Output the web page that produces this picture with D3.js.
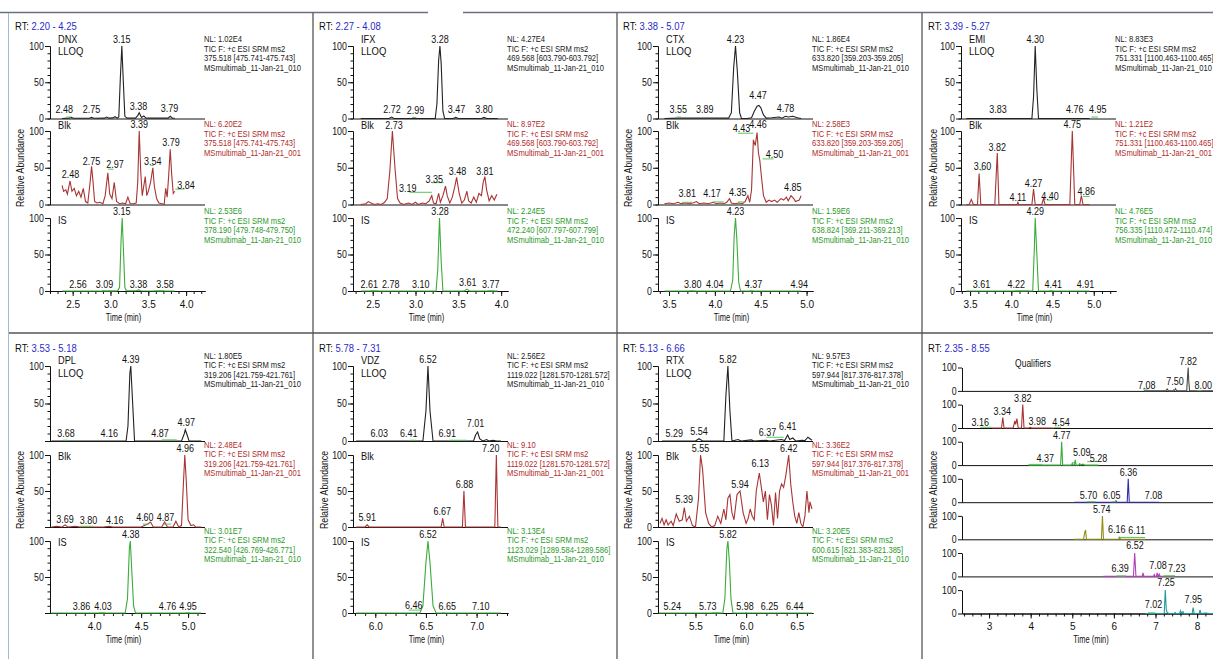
<!DOCTYPE html>
<html><head><meta charset="utf-8">
<script src="https://cdn.jsdelivr.net/npm/d3@7"></script>
<style>
body{margin:0;background:#fff;}
svg{display:block;font-family:Arial,"Liberation Sans",sans-serif;}
</style></head><body>
<svg id="c" width="1213" height="659"></svg>
<script>
// ---------------- DATA ----------------
const TIC = "TIC F: +c ESI SRM ms2";
const FILE_S = "MSmultimab_11-Jan-21_010";
const FILE_B = "MSmultimab_11-Jan-21_001";

const panelNames = ["DNX","IFX","CTX","EMI","DPL","VDZ","RTX"];
const panelRT = [[2.20,4.25],[2.27,4.08],[3.38,5.07],[3.39,5.27],[3.53,5.18],[5.78,7.31],[5.13,6.66]];
const panelTicks = [[2.5,3.0,3.5,4.0],[2.5,3.0,3.5,4.0],[3.5,4.0,4.5,5.0],[3.5,4.0,4.5,5.0],[4.0,4.5,5.0],[6.0,6.5,7.0],[5.5,6.0,6.5]];
const panelNL = [["1.02E4","6.20E2","2.53E6"],["4.27E4","8.97E2","2.24E5"],["1.86E4","2.58E3","1.59E6"],["8.83E3","1.21E2","4.76E5"],["1.80E5","2.48E4","3.01E7"],["2.56E2","9.10","3.13E4"],["9.57E3","3.36E2","3.20E5"]];
const panelMass = [
 ["375.518 [475.741-475.743]","375.518 [475.741-475.743]","378.190 [479.748-479.750]"],
 ["469.568 [603.790-603.792]","469.568 [603.790-603.792]","472.240 [607.797-607.799]"],
 ["633.820 [359.203-359.205]","633.820 [359.203-359.205]","638.824 [369.211-369.213]"],
 ["751.331 [1100.463-1100.465]","751.331 [1100.463-1100.465]","756.335 [1110.472-1110.474]"],
 ["319.206 [421.759-421.761]","319.206 [421.759-421.761]","322.540 [426.769-426.771]"],
 ["1119.022 [1281.570-1281.572]","1119.022 [1281.570-1281.572]","1123.029 [1289.584-1289.586]"],
 ["597.944 [817.376-817.378]","597.944 [817.376-817.378]","600.615 [821.383-821.385]"]];
const panelZeroLabel = [true,true,true,true,false,true,true];

// DNX
const dnxLLOQ = [[2.36,0],[2.45,0.5],[2.48,1.5],[2.51,0.3],[2.72,0.3],[2.75,1.5],[2.78,0.3],[2.92,0.5],[2.95,2],[2.98,0.5],[3.03,0.8],[3.06,2.5],[3.09,0.5],[3.11,2],[3.13,55],[3.15,100],[3.17,50],[3.19,3],[3.22,0.5],[3.33,0.5],[3.36,4],[3.38,8],[3.41,1.5],[3.44,3.5],[3.47,0.5],[3.76,0.5],[3.79,3],[3.82,0.5],[3.85,0.3]];
const dnxBlk = [[2.36,26],[2.38,18],[2.41,20],[2.43,14],[2.465,32],[2.49,18],[2.52,22],[2.55,12],[2.58,18],[2.61,10],[2.64,22],[2.67,4],[2.70,2],[2.73,30],[2.75,52],[2.77,30],[2.79,4],[2.82,2],[2.86,3],[2.90,1],[2.93,12],[2.965,43],[2.99,14],[3.02,8],[3.05,30],[3.08,4],[3.12,1],[3.16,2],[3.20,1],[3.23,10],[3.26,1],[3.30,1],[3.34,2],[3.36,30],[3.38,100],[3.40,45],[3.42,12],[3.44,25],[3.46,38],[3.48,12],[3.50,18],[3.53,30],[3.56,50],[3.58,25],[3.61,8],[3.64,2],[3.68,1],[3.71,0],[3.73,22],[3.75,10],[3.77,40],[3.79,75],[3.81,40],[3.83,15],[3.85,18]];
const dnxIS = [[2.36,0],[3.08,0],[3.10,1],[3.12,5],[3.14,70],[3.155,100],[3.17,60],[3.19,5],[3.21,0.5],[3.34,0.3],[3.37,1.5],[3.40,0.3],[3.85,0]];
const dnxLLOQLab = [[2.39,5,"2.48"],[2.75,5,"2.75"],[3.15,102,"3.15"],[3.37,9,"3.38"],[3.78,6,"3.79"]];
const dnxBlkLab = [[2.47,33,"2.48"],[2.75,51,"2.75"],[3.06,47,"2.97"],[3.38,101,"3.39"],[3.56,51,"3.54"],[3.80,77,"3.79"],[4.0,18,"3.84"]];
const dnxISLab = [[2.57,1,"2.56"],[2.92,1,"3.09"],[3.15,101,"3.15"],[3.37,1,"3.38"],[3.72,1,"3.58"]];
const dnxLLOQSeg = [[2.41,2.48,2]];
const dnxBlkSeg = [[2.97,3.04,48],[3.53,3.57,53],[3.86,3.98,21]];
const dnxISSeg = [[2.89,3.07,0.5],[3.58,3.71,0.5]];

// IFX
const ifxLLOQ = [[2.36,0],[2.69,0],[2.72,2],[2.75,0],[3.23,0],[3.25,20],[3.27,80],[3.285,100],[3.30,75],[3.32,10],[3.34,0],[3.44,0],[3.47,1.5],[3.50,0],[3.77,0],[3.80,1.5],[3.83,0],[3.96,0]];
const ifxBlk = [[2.36,0],[2.42,1],[2.45,4],[2.48,2],[2.52,0],[2.56,1],[2.60,0],[2.64,3],[2.67,8],[2.70,45],[2.73,100],[2.76,50],[2.79,8],[2.82,2],[2.86,0],[2.92,2],[2.96,0],[3.0,3],[3.03,0],[3.08,2],[3.12,1],[3.16,5],[3.19,12],[3.21,2],[3.24,1],[3.27,15],[3.29,3],[3.32,12],[3.35,25],[3.37,12],[3.40,2],[3.43,10],[3.46,25],[3.48,37],[3.51,15],[3.54,2],[3.57,6],[3.60,18],[3.62,5],[3.65,2],[3.68,10],[3.71,3],[3.74,15],[3.77,12],[3.79,30],[3.81,38],[3.83,20],[3.86,5],[3.89,12],[3.92,6],[3.95,14]];
const ifxIS = [[2.36,0],[3.24,0],[3.26,30],[3.28,100],[3.30,40],[3.32,0],[3.57,0],[3.60,2.5],[3.63,0],[3.96,0]];
const ifxLLOQLab = [[2.725,5,"2.72"],[3.0,4,"2.99"],[3.285,102,"3.28"],[3.48,5,"3.47"],[3.80,5,"3.80"]];
const ifxBlkLab = [[2.75,100,"2.73"],[2.91,14,"3.19"],[3.22,27,"3.35"],[3.49,38,"3.48"],[3.81,38,"3.81"]];
const ifxISLab = [[2.46,1,"2.61"],[2.71,1,"2.78"],[3.06,1,"3.10"],[3.285,101,"3.28"],[3.61,4,"3.61"],[3.88,1,"3.77"]];
const ifxLLOQSeg = [[2.96,3.01,1.5]];
const ifxBlkSeg = [[2.93,3.19,16.6],[3.19,3.33,29.7]];
const ifxISSeg = [[2.46,2.56,0.5],[3.84,3.92,0.5]];

// CTX
const ctxLLOQ = [[3.45,0],[3.6,0.5],[3.9,0.5],[4.15,0.5],[4.18,8],[4.205,70],[4.225,100],[4.245,65],[4.27,8],[4.29,0],[4.35,0],[4.40,1],[4.43,10],[4.46,17],[4.48,18],[4.50,15],[4.53,5],[4.56,0.5],[4.62,1],[4.7,2],[4.73,0.5],[4.77,3],[4.8,2],[4.85,3],[4.9,1],[4.94,0]];
const ctxBlk = [[3.45,1],[3.5,2],[3.55,1],[3.6,3],[3.63,1],[3.68,2],[3.72,1],[3.76,2],[3.8,4],[3.83,1],[3.88,2],[3.93,1],[3.98,3],[4.02,1],[4.06,2],[4.1,1],[4.13,3],[4.16,8],[4.18,2],[4.22,1],[4.26,2],[4.3,1],[4.33,4],[4.36,12],[4.38,3],[4.40,20],[4.42,88],[4.44,80],[4.46,98],[4.475,70],[4.49,60],[4.51,35],[4.53,12],[4.56,3],[4.59,6],[4.62,4],[4.65,6],[4.68,3],[4.72,8],[4.75,6],[4.78,10],[4.8,5],[4.83,12],[4.86,8],[4.88,4],[4.92,6],[4.94,12]];
const ctxIS = [[3.45,0],[4.17,0],[4.195,15],[4.21,75],[4.225,100],[4.24,70],[4.26,12],[4.28,0],[4.94,0]];
const ctxLLOQLab = [[3.60,5,"3.55"],[3.89,5,"3.89"],[4.225,102,"4.23"],[4.47,24,"4.47"],[4.77,6,"4.78"]];
const ctxBlkLab = [[3.70,7,"3.81"],[3.97,7.5,"4.17"],[4.25,9,"4.35"],[4.29,96,"4.43"],[4.47,101,"4.46"],[4.65,60,"4.50"],[4.85,16,"4.85"]];
const ctxISLab = [[3.76,1,"3.80"],[4.0,1,"4.04"],[4.225,101,"4.23"],[4.42,1,"4.37"],[4.92,1,"4.94"]];
const ctxLLOQSeg = [[3.58,3.63,2]];
const ctxBlkSeg = [[3.64,3.75,3],[3.98,4.10,3.5],[4.25,4.33,3.5],[4.25,4.42,97],[4.52,4.64,62]];
const ctxISSeg = [[3.72,3.78,0.5],[4.38,4.42,0.5]];

// EMI
const emiLLOQ = [[3.455,0],[4.25,0],[4.27,30],[4.29,100],[4.31,40],[4.33,0],[4.95,0]];
const emiBlk = [[3.455,0],[3.49,0],[3.515,7],[3.54,0],[3.59,0],[3.61,42],[3.63,0],[3.80,0],[3.83,70],[3.85,0],[4.07,0],[4.08,3],[4.09,0],[4.25,0],[4.27,21],[4.29,0],[4.37,0],[4.39,8],[4.41,0],[4.71,0],[4.74,100],[4.77,0],[4.83,0],[4.85,12],[4.87,0],[4.95,0]];
const emiIS = [[3.455,0],[4.26,0],[4.28,60],[4.29,100],[4.31,50],[4.33,0],[4.95,0]];
const emiLLOQLab = [[3.84,5,"3.83"],[4.29,102,"4.30"],[4.77,5,"4.76"],[5.05,5,"4.95"]];
const emiBlkLab = [[3.65,44,"3.60"],[3.83,70,"3.82"],[4.08,2.5,"4.11"],[4.27,21,"4.27"],[4.47,4,"4.40"],[4.74,101,"4.75"],[4.91,10.5,"4.86"]];
const emiISLab = [[3.64,1,"3.61"],[4.06,1,"4.22"],[4.29,101,"4.29"],[4.51,1,"4.41"],[4.90,1,"4.91"]];
const emiLLOQSeg = [[4.97,5.05,2]];
const emiBlkSeg = [[3.62,3.66,47],[4.43,4.49,6],[4.87,4.95,11]];
const emiISSeg = [[4.04,4.22,0.5],[4.46,4.50,0.5]];

// DPL
const dplLLOQ = [[3.545,0],[4.34,0],[4.36,20],[4.38,90],[4.39,100],[4.41,50],[4.43,0],[4.93,0],[4.96,10],[4.97,15],[4.99,8],[5.01,0],[5.14,0]];
const dplBlk = [[3.545,0],[3.6,1],[3.66,0],[3.69,3],[3.72,0],[3.8,1],[3.85,0],[4.1,0],[4.16,1],[4.2,0],[4.5,0],[4.57,4],[4.6,7],[4.63,0],[4.72,0],[4.75,7],[4.78,0],[4.84,0],[4.87,8],[4.9,0],[4.93,2],[4.95,60],[4.965,100],[4.98,65],[5.0,10],[5.03,2],[5.06,3],[5.08,0],[5.14,0]];
const dplIS = [[3.545,0],[4.33,0],[4.355,20],[4.375,90],[4.385,100],[4.40,60],[4.42,10],[4.44,0],[5.14,0]];
const dplLLOQLab = [[3.70,3,"3.68"],[4.16,3,"4.16"],[4.39,101,"4.39"],[4.70,3,"4.87"],[4.98,17,"4.97"]];
const dplBlkLab = [[3.69,3,"3.69"],[3.94,2,"3.80"],[4.22,2,"4.16"],[4.54,6,"4.60"],[4.76,6,"4.87"],[4.97,101,"4.96"]];
const dplISLab = [[3.865,1,"3.86"],[4.095,1,"4.03"],[4.39,101,"4.38"],[4.78,1,"4.76"],[5.0,1,"4.95"]];
const dplLLOQSeg = [[3.67,3.72,1],[4.72,4.88,1.5]];
const dplBlkSeg = [[3.85,3.99,1],[4.52,4.58,4],[4.74,4.82,4]];
const dplISSeg = [[4.05,4.12,0.5],[4.97,5.02,0.5]];

// VDZ
const vdzLLOQ = [[5.81,0],[6.47,0],[6.50,40],[6.52,100],[6.54,40],[6.57,0],[6.97,0],[6.99,8],[7.01,12],[7.03,3],[7.06,0],[7.10,2],[7.12,0],[7.16,1],[7.2,0],[7.24,0]];
const vdzBlk = [[5.81,0],[5.90,0],[5.92,3],[5.94,0],[6.65,0],[6.665,12],[6.68,0],[6.86,0],[6.875,50],[6.89,0],[7.18,0],[7.195,100],[7.21,0],[7.24,0]];
const vdzIS = [[5.81,0],[6.44,0],[6.47,10],[6.50,70],[6.52,100],[6.54,70],[6.57,10],[6.60,0],[7.24,0]];
const vdzLLOQLab = [[6.04,3,"6.03"],[6.33,3,"6.41"],[6.52,101,"6.52"],[6.71,3,"6.91"],[6.99,16,"7.01"]];
const vdzBlkLab = [[5.92,5,"5.91"],[6.66,14.5,"6.67"],[6.88,52,"6.88"],[7.14,101,"7.20"]];
const vdzISLab = [[6.38,3,"6.46"],[6.52,101,"6.52"],[6.71,1,"6.65"],[7.04,1,"7.10"]];
const vdzLLOQSeg = [[6.34,6.40,1],[6.73,6.90,1]];
const vdzBlkSeg = [];
const vdzISSeg = [[6.33,6.46,4],[6.66,6.69,0.5]];

// RTX
const rtxLLOQ = [[5.17,0],[5.5,0],[5.535,3],[5.57,0],[5.78,0],[5.80,60],[5.82,100],[5.84,40],[5.86,0],[5.92,2],[5.95,0],[6.05,1.5],[6.08,0],[6.2,1],[6.23,0],[6.35,2],[6.38,0.5],[6.41,8],[6.43,2],[6.46,4],[6.49,0],[6.55,1],[6.58,0.5],[6.61,5],[6.63,3],[6.65,1]];
const rtxBlk = [[5.15,5],[5.17,12],[5.19,3],[5.21,10],[5.23,3],[5.26,8],[5.28,2],[5.31,18],[5.34,8],[5.37,10],[5.39,27],[5.41,8],[5.44,15],[5.47,2],[5.50,0],[5.53,40],[5.55,100],[5.57,80],[5.60,20],[5.63,5],[5.66,0],[5.69,2],[5.72,15],[5.75,5],[5.78,25],[5.80,10],[5.82,40],[5.84,45],[5.86,20],[5.88,10],[5.91,45],[5.94,50],[5.97,20],[6.0,5],[6.02,12],[6.04,25],[6.06,15],[6.08,10],[6.10,50],[6.13,75],[6.15,55],[6.17,35],[6.19,50],[6.21,10],[6.23,45],[6.25,30],[6.27,2],[6.29,48],[6.31,12],[6.33,50],[6.35,60],[6.37,55],[6.39,70],[6.42,100],[6.44,60],[6.46,35],[6.48,15],[6.50,5],[6.52,20],[6.54,5],[6.56,0],[6.58,15],[6.60,50],[6.62,20],[6.63,35],[6.65,25]];
const rtxIS = [[5.14,0],[5.77,0],[5.79,20],[5.81,90],[5.82,100],[5.835,70],[5.85,20],[5.87,0],[6.65,0]];
const rtxLLOQLab = [[5.29,3,"5.29"],[5.535,6,"5.54"],[5.82,101,"5.82"],[6.21,4,"6.37"],[6.41,12,"6.41"]];
const rtxBlkLab = [[5.39,31,"5.39"],[5.55,101,"5.55"],[5.94,52,"5.94"],[6.14,80,"6.13"],[6.42,101,"6.42"]];
const rtxISLab = [[5.27,1,"5.24"],[5.62,1,"5.73"],[5.82,101,"5.82"],[5.99,1,"5.98"],[6.23,1,"6.25"],[6.48,1,"6.44"]];
const rtxLLOQSeg = [[6.20,6.37,5]];
const rtxBlkSeg = [];
const rtxISSeg = [[5.66,5.75,0.5],[5.99,6.01,0.5]];

// Qualifiers
const qualRT = [2.35, 8.55];
const qualTicks = [3,4,5,6,7,8];
const q1 = [[6.72,0],[7.25,0],[7.28,8],[7.31,0],[7.45,0],[7.48,10],[7.51,0],[7.75,0],[7.77,60],[7.785,100],[7.80,40],[7.82,0],[8.55,0]];
const q2 = [[3.07,0],[3.30,0],[3.33,45],[3.36,0],[3.58,0],[3.62,30],[3.64,15],[3.67,40],[3.70,0],[3.78,0],[3.81,100],[3.84,0],[3.96,0],[3.99,3],[4.02,0],[4.55,0]];
const q3 = [[3.95,0],[4.72,0],[4.745,100],[4.77,0],[4.98,0],[5.0,8],[5.02,0],[5.05,0],[5.07,22],[5.09,0],[5.15,0],[5.18,6],[5.2,0],[5.25,4],[5.30,0],[5.63,0]];
const q4 = [[5.05,0],[6.03,0],[6.05,6],[6.07,0],[6.32,0],[6.345,100],[6.37,0],[7.09,0]];
const q5 = [[5.03,0],[5.27,0],[5.30,30],[5.32,40],[5.34,0],[5.70,0],[5.725,100],[5.75,0],[6.12,0],[6.14,8],[6.16,0],[6.75,0]];
const q6 = [[5.75,0],[6.47,0],[6.50,100],[6.53,0],[6.68,0],[6.70,15],[6.72,0],[6.95,0],[6.97,8],[6.99,0],[7.02,0],[7.04,15],[7.06,0],[7.09,10],[7.11,0],[7.19,0]];
const q7 = [[6.75,0],[7.21,0],[7.235,100],[7.26,15],[7.28,5],[7.32,0],[7.45,0],[7.47,5],[7.49,0],[7.58,0],[7.60,12],[7.62,2],[7.66,8],[7.68,0],[7.88,0],[7.905,25],[7.93,0],[8.05,0],[8.07,15],[8.09,0],[8.2,2],[8.3,0],[8.55,0]];
const q1Lab = [[6.79,1,"7.08"],[7.47,16,"7.50"],[7.79,104,"7.82"],[8.15,1,"8.00"]];
const q2Lab = [[2.79,1,"3.16"],[3.32,49,"3.34"],[3.81,103,"3.82"],[4.16,3,"3.98"],[4.73,2,"4.54"]];
const q3Lab = [[4.35,3,"4.37"],[4.75,105,"4.77"],[5.23,30,"5.09"],[5.63,3,"5.28"]];
const q4Lab = [[5.39,6,"5.70"],[5.95,6,"6.05"],[6.35,104,"6.36"],[6.95,6,"7.08"]];
const q5Lab = [[5.71,105,"5.74"],[6.07,17,"6.16"],[6.55,14,"6.11"]];
const q6Lab = [[6.15,10,"6.39"],[6.51,108,"6.52"],[7.06,21,"7.08"],[7.51,10,"7.23"]];
const q7Lab = [[6.95,14,"7.02"],[7.25,111,"7.25"],[7.91,36,"7.95"]];
const q1Seg = [[6.70,6.82,8],[7.42,7.46,6],[8.0,8.1,2]];
const q2Seg = [[2.79,3.07,3],[4.56,4.73,3]];
const q3Seg = [[3.95,4.28,3],[5.0,5.07,10],[5.36,5.63,15]];
const q4Seg = [[5.36,5.56,2],[5.95,6.06,2]];
const q5Seg = [[6.10,6.75,8]];
const q6Seg = [[6.06,6.29,2],[7.19,7.47,3]];
const q7Seg = [[6.82,7.0,3]];

// ---------------- LAYOUT / STYLE ----------------
const borders = [9, 313, 617, 922];
const axisLefts = [50, 353, 658, 961];
const plotW = 155;
const rowSubs = [[[46,118.5],[131,204.5],[218,291]], [[366,441],[455,527],[541,613]]];
const traceCols = ["#222222", "#a83434", "#3cac3c"];
const hdrCols = ["#1a1a1a", "#b02a2a", "#2a9a2a"];
const segCol = "#5cc45c";
const qualCols = ["#4a4a4a","#a83333","#3aaa3a","#2f2fa8","#8f8f10","#b040b8","#1f9a9a"];
const FONT = "Arial, 'Liberation Sans', sans-serif";

const svg = d3.select("#c");

function T(g, x, y, s, o = {}) {
  const rot = o.rot ? ` rotate(${o.rot})` : "";
  return g.append("text")
    .attr("transform", `translate(${x},${y})${rot} scale(${o.sx || 1},1)`)
    .attr("font-size", o.size || 10)
    .attr("font-family", FONT)
    .attr("fill", o.fill || "#111")
    .attr("text-anchor", o.anchor || "start")
    .text(s);
}
function styleAxis(sel) {
  sel.attr("font-family", FONT).attr("font-size", 10);
  sel.selectAll("path,line").attr("stroke", "#111");
  sel.selectAll("text").attr("fill", "#111");
  return sel;
}
function condenseY(sel) {
  sel.selectAll(".tick text").attr("transform", "scale(0.88,1)");
}
function minorRange(a, b, step) {
  const k0 = Math.ceil(a / step - 1e-9), k1 = Math.floor(b / step + 1e-9);
  return d3.range(k0, k1 + 1).map(k => +(k * step).toFixed(3));
}

// ---------------- FRAME ----------------
const frame = svg.append("g");
frame.append("line").attr("x1",0).attr("x2",428).attr("y1",12.5).attr("y2",12.5).attr("stroke","#6b7080").attr("stroke-width",1.6);
frame.append("line").attr("x1",463).attr("x2",1213).attr("y1",12.5).attr("y2",12.5).attr("stroke","#6b7080").attr("stroke-width",1.6);
frame.append("line").attr("x1",8.5).attr("x2",8.5).attr("y1",13).attr("y2",659).attr("stroke","#9fb8dc").attr("stroke-width",1);
[313,617,922].forEach(xv => frame.append("line").attr("x1",xv).attr("x2",xv).attr("y1",13).attr("y2",659).attr("stroke","#555").attr("stroke-width",1.3));
frame.append("line").attr("x1",9).attr("x2",1213).attr("y1",333).attr("y2",333).attr("stroke","#555").attr("stroke-width",1.3);

// ---------------- STANDARD PANELS ----------------
const panelTraces = [
  [dnxLLOQ,dnxBlk,dnxIS],[ifxLLOQ,ifxBlk,ifxIS],[ctxLLOQ,ctxBlk,ctxIS],[emiLLOQ,emiBlk,emiIS],
  [dplLLOQ,dplBlk,dplIS],[vdzLLOQ,vdzBlk,vdzIS],[rtxLLOQ,rtxBlk,rtxIS]];
const panelLabels = [
  [dnxLLOQLab,dnxBlkLab,dnxISLab],[ifxLLOQLab,ifxBlkLab,ifxISLab],[ctxLLOQLab,ctxBlkLab,ctxISLab],[emiLLOQLab,emiBlkLab,emiISLab],
  [dplLLOQLab,dplBlkLab,dplISLab],[vdzLLOQLab,vdzBlkLab,vdzISLab],[rtxLLOQLab,rtxBlkLab,rtxISLab]];
const panelSegs = [
  [dnxLLOQSeg,dnxBlkSeg,dnxISSeg],[ifxLLOQSeg,ifxBlkSeg,ifxISSeg],[ctxLLOQSeg,ctxBlkSeg,ctxISSeg],[emiLLOQSeg,emiBlkSeg,emiISSeg],
  [dplLLOQSeg,dplBlkSeg,dplISSeg],[vdzLLOQSeg,vdzBlkSeg,vdzISSeg],[rtxLLOQSeg,rtxBlkSeg,rtxISSeg]];

function rtLabel(g, xPos, yPos, rt) {
  const t = g.append("text").attr("transform", `translate(${xPos},${yPos}) scale(0.9,1)`)
    .attr("font-size", 10.5).attr("font-family", FONT);
  t.append("tspan").attr("fill", "#111").text("RT: ");
  t.append("tspan").attr("fill", "#2b2bc4").text(`${rt[0].toFixed(2)} - ${rt[1].toFixed(2)}`);
}

function drawPanel(i) {
  const row = i < 4 ? 0 : 1, col = i < 4 ? i : i - 4;
  const L = axisLefts[col], R = L + plotW;
  const rt = panelRT[i];
  const x = d3.scaleLinear().domain(rt).range([L, R]);
  const g = svg.append("g");
  const subs = rowSubs[row];
  rtLabel(g, borders[col] + 6, row === 0 ? 30.3 : 351.6, rt);
  if (!(row === 0 && col === 1)) {
    T(g, borders[col] + 15, row === 0 ? 168 : 490, "Relative Abundance", {rot: -90, sx: 0.88, anchor: "middle", size: 10});
  }
  const files = [FILE_S, FILE_B, FILE_S];
  for (let s = 0; s < 3; s++) {
    const [top, bot] = subs[s];
    const y = d3.scaleLinear().domain([0, 100]).range([bot, top]);
    styleAxis(g.append("g").attr("transform", `translate(${L},0)`)
      .call(d3.axisLeft(y).tickValues(d3.range(0, 101, 10)).tickSize(2.5).tickSizeOuter(0).tickFormat("")));
    condenseY(styleAxis(g.append("g").attr("transform", `translate(${L},0)`)
      .call(d3.axisLeft(y).tickValues([0, 50, 100]).tickSize(5).tickSizeOuter(0).tickPadding(2)
        .tickFormat(v => (v === 0 && !panelZeroLabel[i]) ? "" : v))));
    if (s < 2) {
      g.append("line").attr("x1", L).attr("x2", R).attr("y1", y(0) + 0.5).attr("y2", y(0) + 0.5).attr("stroke", "#111");
    } else {
      styleAxis(g.append("g").attr("transform", `translate(0,${bot})`)
        .call(d3.axisBottom(x).tickValues(minorRange(rt[0], rt[1], 0.1)).tickSize(3).tickSizeOuter(0).tickFormat("")));
      styleAxis(g.append("g").attr("transform", `translate(0,${bot})`)
        .call(d3.axisBottom(x).tickValues(panelTicks[i]).tickSize(5).tickSizeOuter(0).tickPadding(5).tickFormat(d3.format(".1f"))));
      T(g, L + plotW / 2 - 4, row === 0 ? 320.5 : 643, "Time (min)", {anchor: "middle", sx: 0.75, size: 10});
    }
    g.append("path").datum(panelTraces[i][s])
      .attr("d", d3.line().x(d => x(d[0])).y(d => y(d[1])))
      .attr("fill", "none").attr("stroke", traceCols[s]).attr("stroke-width", 1.1);
    panelSegs[i][s].forEach(sg => g.append("line").attr("x1", x(sg[0])).attr("x2", x(sg[1]))
      .attr("y1", y(sg[2])).attr("y2", y(sg[2])).attr("stroke", segCol).attr("stroke-width", 1));
    panelLabels[i][s].forEach(([t, v, str]) => T(g, x(t), y(v) - 2, str, {anchor: "middle", sx: 0.9, size: 10}));
    const hy = top + (row === 0 ? -4 : -7);
    const step = row === 0 ? 9.7 : 9.3;
    [`NL: ${panelNL[i][s]}`, TIC, panelMass[i][s], files[s]].forEach((ln, k) =>
      T(g, R - 1, hy + k * step, ln, {size: 9.5, sx: 0.8, fill: hdrCols[s]}));
  }
  const [t1, t2, t3] = [subs[0][0], subs[1][0], subs[2][0]];
  const o = row === 0 ? {n: -3.5, l: 8.5, b: -2.5, i: 5.5} : {n: -2.5, l: 11, b: 5, i: 5};
  T(g, L + 8, t1 + o.n, panelNames[i], {sx: 0.92});
  T(g, L + 8, t1 + o.l, "LLOQ", {sx: 0.95});
  T(g, L + 8, t2 + o.b, "Blk", {sx: 0.92});
  T(g, L + 8, t3 + o.i, "IS", {sx: 0.92});
}
for (let i = 0; i < 7; i++) drawPanel(i);

// ---------------- QUALIFIERS PANEL ----------------
(function () {
  const qTraces = [q1,q2,q3,q4,q5,q6,q7];
  const qLabs = [q1Lab,q2Lab,q3Lab,q4Lab,q5Lab,q6Lab,q7Lab];
  const qSegs = [q1Seg,q2Seg,q3Seg,q4Seg,q5Seg,q6Seg,q7Seg];
  const L = 962, W = 258;
  const x = d3.scaleLinear().domain(qualRT).range([L, L + W]);
  const g = svg.append("g");
  rtLabel(g, 922 + 6, 351.6, qualRT);
  T(g, 922 + 15, 490, "Relative Abundance", {rot: -90, sx: 0.88, anchor: "middle"});
  T(g, 1033, 366.5, "Qualifiers", {anchor: "middle", sx: 0.85});
  for (let k = 0; k < 7; k++) {
    const top = 367.5 + k * 37.1, bot = top + 23.4;
    const y = d3.scaleLinear().domain([0, 100]).range([bot, top]);
    condenseY(styleAxis(g.append("g").attr("transform", `translate(${L},0)`)
      .call(d3.axisLeft(y).tickValues([0, 100]).tickSize(4).tickSizeOuter(0).tickPadding(2))));
    if (k < 6) {
      g.append("line").attr("x1", L).attr("x2", L + W).attr("y1", bot + 0.5).attr("y2", bot + 0.5).attr("stroke", "#111");
    } else {
      styleAxis(g.append("g").attr("transform", `translate(0,${bot})`)
        .call(d3.axisBottom(x).tickValues(minorRange(qualRT[0], qualRT[1], 0.2)).tickSize(3).tickSizeOuter(0).tickFormat("")));
      styleAxis(g.append("g").attr("transform", `translate(0,${bot})`)
        .call(d3.axisBottom(x).tickValues(qualTicks).tickSize(5).tickSizeOuter(0).tickPadding(4).tickFormat(d3.format("d"))));
      T(g, 1091, 643, "Time (min)", {anchor: "middle", sx: 0.75});
    }
    g.append("path").datum(qTraces[k])
      .attr("d", d3.line().x(d => x(d[0])).y(d => y(d[1])))
      .attr("fill", "none").attr("stroke", qualCols[k]).attr("stroke-width", 1.1);
    qSegs[k].forEach(sg => g.append("line").attr("x1", x(sg[0])).attr("x2", x(sg[1]))
      .attr("y1", y(sg[2])).attr("y2", y(sg[2])).attr("stroke", segCol).attr("stroke-width", 1));
    qLabs[k].forEach(([t, v, str]) => T(g, x(t), y(v) - 2, str, {anchor: "middle", sx: 0.9}));
  }
})();
</script>
</body></html>
